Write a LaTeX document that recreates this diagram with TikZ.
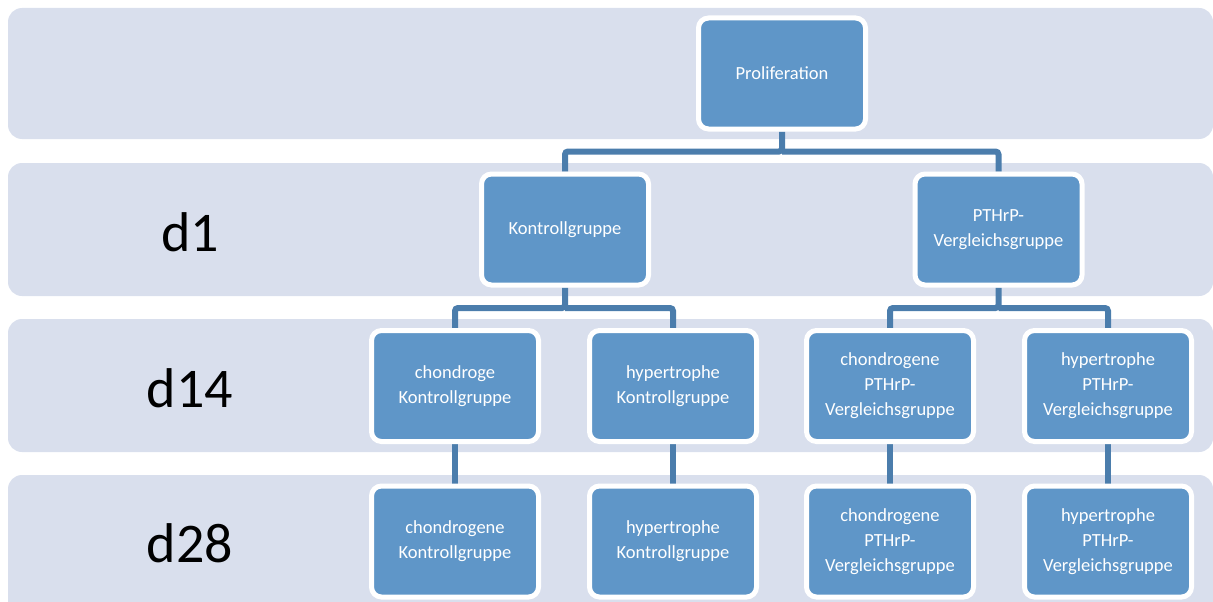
\documentclass[tikz,border=0pt]{standalone}
\usepackage{fontspec}
\setmainfont{Carlito}
\usetikzlibrary{positioning,calc}
\usepackage{xcolor}
\pgfdeclarelayer{bands}
\pgfdeclarelayer{links}
\pgfsetlayers{bands,links,main}
\definecolor{bandfill}{HTML}{D9DFED}
\definecolor{boxfill}{HTML}{5F96C8}
\definecolor{linkblue}{HTML}{4B7DAC}

\begin{document}
\begin{tikzpicture}[x=1pt,y=-1pt,
    band/.style={fill=bandfill,rounded corners=14pt},
    group/.style={draw=white,line width=5pt,fill=boxfill,rounded corners=10pt,minimum width=167pt,minimum height=111pt,inner sep=0pt,align=center,text=white,font=\fontsize{18.5}{25}\selectfont},
    day/.style={font=\fontsize{56}{56}\selectfont},
    link/.style={draw=linkblue,line width=6pt,rounded corners=3pt}
  ]
    \useasboundingbox (0,0) rectangle (1213,602);
    \clip (0,0) rectangle (1213,602);

    % Bands (one per time point)
    \begin{pgfonlayer}{bands}
      \fill[band] (8,8) rectangle (1213,139);
      \fill[band] (8,163) rectangle (1213,296);
      \fill[band] (8,319) rectangle (1213,452);
      \fill[band] (8,475) rectangle (1213,640);
    \end{pgfonlayer}

    % Day labels (on the left)
    \node[day] (d1) at (190,232) {d1};
    \node[day] (d14) at (190,388) {d14};
    \node[day] (d28) at (190,543) {d28};

    % Level 0: Proliferation
    \node[group] (prolif) at (782,73.5) {Proliferation};

    % Level 1: d1
    \node[group] (kontr) at (565,229.5) {Kontrollgruppe};
    \node[group] (pthrp) at (998.5,229.5) {PTHrP-\\Vergleichsgruppe};

    % Level 2: d14
    \node[group] (chkontr) at (455,386) {chondroge\\Kontrollgruppe};
    \node[group] (hykontr) at (673,386) {hypertrophe\\Kontrollgruppe};
    \node[group] (chpthrp) at (890,386) {chondrogene\\PTHrP-\\Vergleichsgruppe};
    \node[group] (hypthrp) at (1108,386) {hypertrophe\\PTHrP-\\Vergleichsgruppe};

    % Level 3: d28
    \node[group] (chkontrb) at (455,541.5) {chondrogene\\Kontrollgruppe};
    \node[group] (hykontrb) at (673,541.5) {hypertrophe\\Kontrollgruppe};
    \node[group] (chpthrpb) at (890,541.5) {chondrogene\\PTHrP-\\Vergleichsgruppe};
    \node[group] (hypthrpb) at (1108,541.5) {hypertrophe\\PTHrP-\\Vergleichsgruppe};

    % Connections (behind the boxes)
    \coordinate (j0) at (782,151.5);
    \coordinate (j1) at (565,308);
    \coordinate (j2) at (998.5,308);
    \begin{pgfonlayer}{links}
      \draw[link] (prolif.south) -- (j0) -| (kontr.north);
      \draw[link] (j0) -| (pthrp.north);
      \draw[link] (kontr.south) -- (j1) -| (chkontr.north);
      \draw[link] (j1) -| (hykontr.north);
      \draw[link] (pthrp.south) -- (j2) -| (chpthrp.north);
      \draw[link] (j2) -| (hypthrp.north);
      \draw[link] (chkontr) -- (chkontrb);
      \draw[link] (hykontr) -- (hykontrb);
      \draw[link] (chpthrp) -- (chpthrpb);
      \draw[link] (hypthrp) -- (hypthrpb);
    \end{pgfonlayer}
  \end{tikzpicture}
\end{document}
